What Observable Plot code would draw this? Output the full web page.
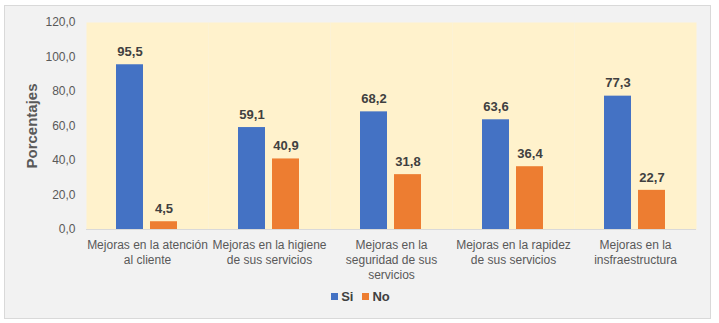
<!DOCTYPE html>
<html>
<head>
<meta charset="utf-8">
<script src="https://cdn.jsdelivr.net/npm/d3@7"></script>
<script src="https://cdn.jsdelivr.net/npm/@observablehq/plot@0.6"></script>
<style>
  html, body { margin: 0; padding: 0; background: #ffffff; }
  #wrap { position: relative; width: 719px; height: 323px; font-family: "Liberation Sans", Arial, sans-serif; }
  #bg { position: absolute; left: 4px; top: 5px; width: 707px; height: 314px; background: #f2f2f2; border: 1px solid #d9d9d9; box-sizing: border-box; }
  #chart { position: absolute; left: 0; top: 0; }
  #legend { position: absolute; left: 0; top: 289px; width: 719px; display: flex; justify-content: center; gap: 9px; font: bold 13px "Liberation Sans", Arial, sans-serif; color: #404040; padding-left: 2px; box-sizing: border-box; }
  .item { display: flex; align-items: center; gap: 3px; }
  .sw { width: 7px; height: 7px; display: inline-block; }
</style>
</head>
<body>
<div id="wrap">
  <div id="bg"></div>
  <div id="chart"></div>
  <div id="legend"></div>
</div>
<script>
const categories = [
  "Mejoras en la atención al cliente",
  "Mejoras en la higiene de sus servicios",
  "Mejoras en la seguridad de sus servicios",
  "Mejoras en la rapidez de sus servicios",
  "Mejoras en la insfraestructura"
];
const categoryLabels = [
  "Mejoras en la atención\nal cliente",
  "Mejoras en la higiene\nde sus servicios",
  "Mejoras en la\nseguridad de sus\nservicios",
  "Mejoras en la rapidez\nde sus servicios",
  "Mejoras en la\ninsfraestructura"
];
const series = ["Si", "No"];
const siValues = [95.5, 59.1, 68.2, 63.6, 77.3];
const noValues = [4.5, 40.9, 31.8, 36.4, 22.7];
const seriesColors = ["#4472c4", "#ed7d31"];
const yTicks = [0, 20, 40, 60, 80, 100, 120];
const yLabel = "Porcentajes";

const data = [];
categories.forEach((c, i) => {
  data.push({cat: c, serie: "Si", value: siValues[i]});
  data.push({cat: c, serie: "No", value: noValues[i]});
});
const fmt = d => d.toFixed(1).replace(".", ",");
const labelOf = new Map(categories.map((c, i) => [c, categoryLabels[i]]));

const chart = Plot.plot({
  width: 719,
  height: 280,
  marginTop: 22,
  marginLeft: 85,
  marginRight: 22,
  marginBottom: 51,
  style: {background: "transparent", fontFamily: "'Liberation Sans', Arial, sans-serif", fontSize: "12px", color: "#595959", overflow: "visible"},
  fx: {domain: categories, padding: 0},
  x: {domain: series, paddingInner: 0.2, paddingOuter: 0.85},
  y: {domain: [0, 120]},
  color: {domain: series, range: seriesColors},
  marks: [
    Plot.frame({fill: "#fff2cc", stroke: null}),
    Plot.barY(data, {fx: "cat", x: "serie", y: "value", fill: "serie"}),
    Plot.ruleY([0], {stroke: "#d9d9d9", strokeWidth: 1}),
    Plot.text(data, {fx: "cat", x: "serie", y: "value", text: d => fmt(d.value), dy: -13, fontWeight: "bold", fontSize: 13, fill: "#404040"}),
    Plot.axisY(yTicks, {tickSize: 0, tickPadding: 11, tickFormat: fmt, fill: "#595959", fontSize: 12,
      label: yLabel, labelAnchor: "center", labelArrow: "none", labelOffset: 60}),
    Plot.axisX({ticks: [], label: null}),
    Plot.axisFx({anchor: "bottom", tickSize: 0, tickPadding: 9, tickFormat: d => labelOf.get(d), fill: "#595959", fontSize: 12, lineHeight: 1.25, label: null})
  ]
});
document.getElementById("chart").appendChild(chart);

// style the y-axis title
chart.querySelectorAll("text").forEach(t => {
  if (t.textContent === yLabel) { t.setAttribute("font-weight", "bold"); t.setAttribute("font-size", "15"); }
});

const legend = document.getElementById("legend");
series.forEach((s, i) => {
  const it = document.createElement("div");
  it.className = "item";
  const sw = document.createElement("span");
  sw.className = "sw";
  sw.style.background = seriesColors[i];
  const lb = document.createElement("span");
  lb.textContent = s;
  it.appendChild(sw); it.appendChild(lb);
  legend.appendChild(it);
});
</script>
</body>
</html>
